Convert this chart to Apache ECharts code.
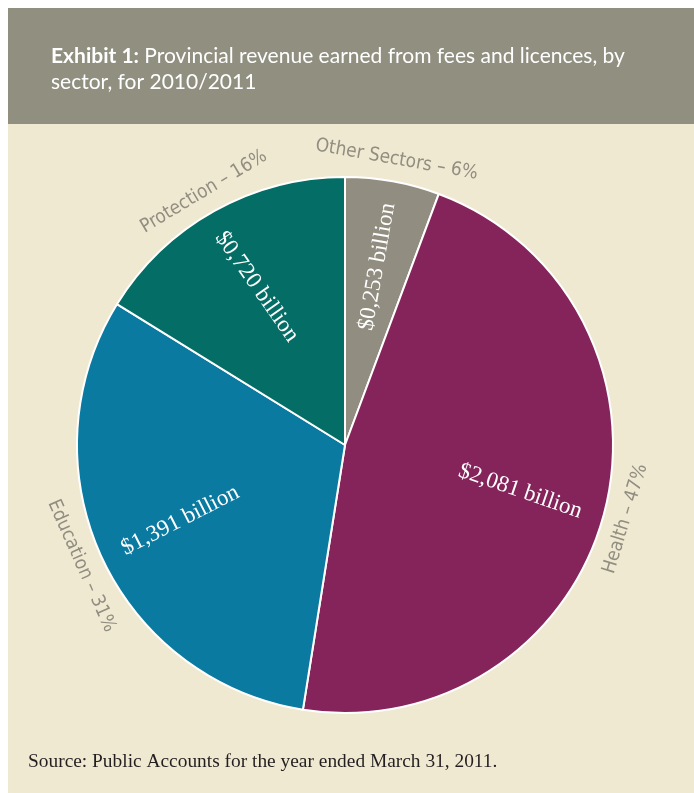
<!DOCTYPE html>
<html>
<head>
<meta charset="utf-8">
<script src="https://cdn.jsdelivr.net/npm/echarts@6/dist/echarts.min.js"></script>
<style>
html,body{margin:0;padding:0;background:#fff;}
#chart{width:694px;height:793px;}
</style>
</head>
<body>
<div id="chart"></div>
<script>
// ---- data ----
const categories = ['Other Sectors', 'Health', 'Education', 'Protection'];
const values = [0.253, 2.081, 1.391, 0.720];          // $ billion
const valueLabels = ['$0,253 billion', '$2,081 billion', '$1,391 billion', '$0,720 billion'];
const percentLabels = ['6%', '47%', '31%', '16%'];

// ---- style ----
const colors = ['#918e81', '#85245a', '#0a7aa0', '#046d65'];
const innerRotate = [80, -19, 27, -55];
const outerRotate = [-10, 73, -66, 31];
const cx = 345, cy = 445, R = 268;

const chart = echarts.init(document.getElementById('chart'), null, {renderer: 'canvas'});

const mainData = categories.map((c, i) => ({
  name: c, value: values[i], itemStyle: {color: colors[i]}
}));
const innerData = categories.map((c, i) => ({
  name: c, value: values[i],
  label: {formatter: valueLabels[i], rotate: innerRotate[i]}
}));
const outerData = categories.map((c, i) => ({
  name: c, value: values[i],
  label: {formatter: c + ' \u2013 ' + percentLabels[i], rotate: outerRotate[i]}
}));

chart.setOption({
  backgroundColor: '#ffffff',
  animation: false,
  title: {
    left: 46, top: 38,
    text: '{b|Exhibit 1:} Provincial revenue earned from fees and licences, by\nsector, for 2010/2011',
    textStyle: {
      color: '#ffffff', fontFamily: 'Lato', fontSize: 21, fontWeight: 'normal', lineHeight: 26,
      rich: {b: {fontWeight: 'bold', fontFamily: 'Lato', fontSize: 21, color: '#ffffff', lineHeight: 26}}
    }
  },
  graphic: [
    {type: 'rect', z: -10, silent: true, shape: {x: 8, y: 8, width: 686, height: 116}, style: {fill: '#918f80'}},
    {type: 'rect', z: -10, silent: true, shape: {x: 8, y: 124, width: 686, height: 669}, style: {fill: '#f0e9d2'}},
    {type: 'text', left: 28, top: 752, style: {
      text: 'Source: Public Accounts for the year ended March 31, 2011.',
      fontFamily: 'Liberation Serif', fontSize: 19.4, fill: '#231f20'
    }}
  ],
  series: [
    {
      type: 'pie', center: [cx, cy], radius: [0, R], startAngle: 90, clockwise: true,
      silent: true, label: {show: false}, labelLine: {show: false},
      itemStyle: {borderColor: '#ffffff', borderWidth: 2},
      data: mainData
    },
    {
      type: 'pie', center: [cx, cy], radius: [R * 0.33, R], startAngle: 90, clockwise: true,
      silent: true, z: 3,
      itemStyle: {color: 'rgba(0,0,0,0)'},
      label: {show: true, position: 'inside', color: '#ffffff', fontFamily: 'Liberation Serif', fontSize: 23},
      labelLine: {show: false},
      data: innerData
    },
    {
      type: 'pie', center: [cx, cy], radius: [R, R + 38], startAngle: 90, clockwise: true,
      silent: true, z: 3,
      itemStyle: {color: 'rgba(0,0,0,0)'},
      label: {show: true, position: 'inside', color: '#918e81', fontFamily: "'DejaVu Sans Condensed', 'Liberation Sans Narrow', sans-serif", fontSize: 19},
      labelLine: {show: false},
      data: outerData
    }
  ]
});
</script>
</body>
</html>
